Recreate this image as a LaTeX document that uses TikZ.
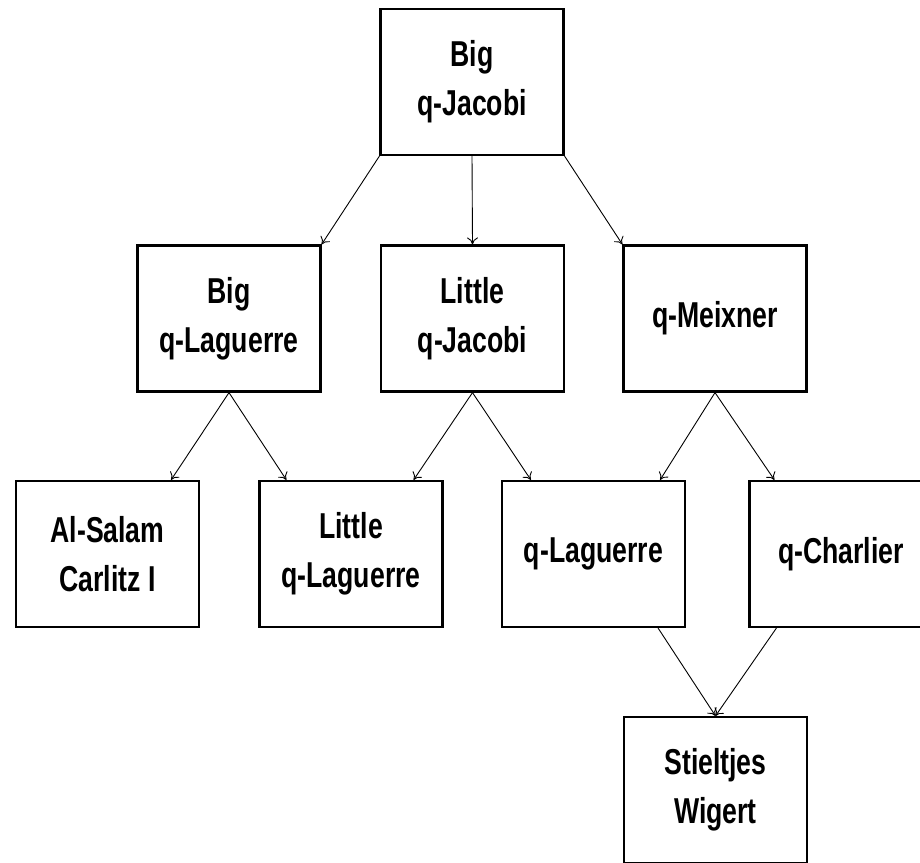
\documentclass[tikz,border=0pt]{standalone}
\usepackage{fontspec}
\setmainfont{Liberation Sans}[FakeStretch=0.74]
\usetikzlibrary{arrows.meta}
\begin{document}
\begin{tikzpicture}[x=1pt,y=-1pt,
    box/.style={draw, line width=2.2pt, minimum width=183pt, minimum height=146pt,
        inner sep=0pt, align=center, font=\bfseries\fontsize{36}{49}\selectfont},
    link/.style={line width=0.9pt, -{To[length=7pt,width=11pt]}}]
    \fill[white] (0,0) rectangle (920,862);
    \useasboundingbox (0,0) rectangle (920,862);

    \node[box] (bqj) at (472,82) {Big\\q-Jacobi};

    \node[box] (bql) at (229,318.5) {Big\\q-Laguerre};
    \node[box] (lqj) at (472.5,318.5) {Little\\q-Jacobi};
    \node[box] (qm) at (715,318.5) {q-Meixner};

    \node[box] (asc) at (107.5,554) {Al-Salam\\Carlitz I};
    \node[box] (lql) at (351,554) {Little\\q-Laguerre};
    \node[box] (ql) at (593.5,554) {q-Laguerre};
    \node[box] (qc) at (841,554) {q-Charlier};

    \node[box] (sw) at (715.5,790) {Stieltjes\\Wigert};

    \draw[link] (bqj.south west) -- (bql.north east);
    \draw[link] (bqj.south) -- (lqj.north);
    \draw[link] (bqj.south east) -- (qm.north west);
    \draw[link] (bql.south) -- ([xshift=-29pt]asc.north east);
    \draw[link] (bql.south) -- ([xshift=28pt]lql.north west);
    \draw[link] (lqj.south) -- ([xshift=-30pt]lql.north east);
    \draw[link] (lqj.south) -- ([xshift=30pt]ql.north west);
    \draw[link] (qm.south) -- ([xshift=-26pt]ql.north east);
    \draw[link] (qm.south) -- ([xshift=26pt]qc.north west);
    \draw[link] ([xshift=-28pt]ql.south east) -- (sw.north);
    \draw[link] ([xshift=28pt]qc.south west) -- (sw.north);
\end{tikzpicture}
\end{document}
